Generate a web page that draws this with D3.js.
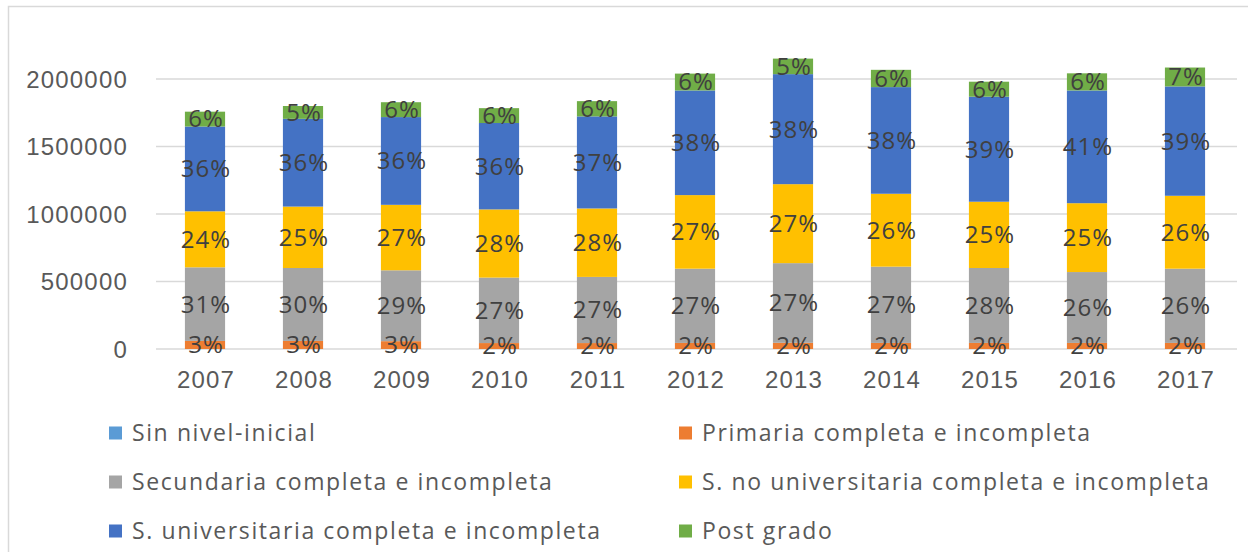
<!DOCTYPE html>
<html>

<head>
    <meta charset="utf-8">
    <style>
        body {
            margin: 0;
            background-color: white;
        }

        svg {
            display: block;
            font-family: 'Open Sans', 'Liberation Sans', sans-serif;
        }

        .tick-label {
            fill: #595959;
            font-size: 24px;
            letter-spacing: 1.2px;
        }

        .data-label {
            fill: #404040;
            font-size: 24px;
            letter-spacing: 1px;
        }

        .legend-label {
            fill: #595959;
            font-size: 23px;
            letter-spacing: 1.6px;
        }
    </style>
</head>

<body>
    <svg width="1248" height="552"></svg>
</body>

<script src="https://d3js.org/d3.v7.min.js"></script>

<script>
    // years on the x axis
    let years = ["2007", "2008", "2009", "2010", "2011", "2012", "2013", "2014", "2015", "2016", "2017"]

    // one array per education level (people)
    let sinNivel = [0, 0, 0, 0, 0, 0, 0, 0, 0, 0, 0]
    let primaria = [60000, 60000, 58000, 44000, 44000, 45000, 46000, 45000, 45000, 45000, 45000]
    let secundaria = [545000, 540000, 525000, 485000, 490000, 550000, 590000, 565000, 555000, 525000, 550000]
    let noUniversitaria = [415000, 455000, 485000, 505000, 507000, 545000, 585000, 540000, 491000, 510000, 540000]
    let universitaria = [628000, 650000, 650000, 640000, 682000, 775000, 815000, 790000, 778000, 835000, 810000]
    let postGrado = [110000, 95000, 110000, 110000, 113000, 125000, 115000, 128000, 111000, 127000, 140000]

    let seriesNames = [
        "Sin nivel-inicial",
        "Primaria completa e incompleta",
        "Secundaria completa e incompleta",
        "S. no universitaria completa e incompleta",
        "S. universitaria completa e incompleta",
        "Post grado"
    ]
    let seriesValues = [sinNivel, primaria, secundaria, noUniversitaria, universitaria, postGrado]
    let colors = ["#5b9bd5", "#ed7d31", "#a5a5a5", "#ffc000", "#4472c4", "#70ad47"]

    let yTicks = [0, 500000, 1000000, 1500000, 2000000]

    // build rows for d3.stack
    let rows = years.map((y, i) => {
        let row = { year: y }
        seriesNames.forEach((name, s) => { row[name] = seriesValues[s][i] })
        return row
    })
    let totals = years.map((y, i) => d3.sum(seriesValues, s => s[i]))

    let svg = d3.select("svg")

    // chart frame (only top and left edges are visible in the picture)
    svg.append("rect")
        .attr("x", 8.5)
        .attr("y", 6.5)
        .attr("width", 1260)
        .attr("height", 560)
        .style("fill", "none")
        .style("stroke", "#d9d9d9")
        .style("stroke-width", 1.5)

    let x = d3.scaleBand()
        .domain(years)
        .range([156, 1234])
        .paddingInner(0.59)
        .paddingOuter(0.295)

    let y = d3.scaleLinear()
        .domain([0, 2000000])
        .range([349, 79])

    // gridlines
    svg.append("g")
        .selectAll("line")
        .data(yTicks)
        .join("line")
        .attr("x1", 156)
        .attr("x2", 1237)
        .attr("y1", d => y(d))
        .attr("y2", d => y(d))
        .style("stroke", "#d9d9d9")
        .style("stroke-width", 1.5)

    // y axis labels
    let yAxis = d3.axisLeft(y).tickValues(yTicks).tickSize(0).tickPadding(0).tickFormat(d3.format("d"))
    svg.append("g")
        .attr("transform", "translate(128,0)")
        .call(yAxis)
        .call(g => g.select(".domain").remove())
        .call(g => g.selectAll("text")
            .attr("class", "tick-label")
            .attr("font-size", null)
            .attr("font-family", null)
            .attr("dy", "0.35em"))

    // x axis labels
    let xAxis = d3.axisBottom(x).tickSize(0).tickPadding(0)
    svg.append("g")
        .attr("transform", "translate(1,371)")
        .call(xAxis)
        .call(g => g.select(".domain").remove())
        .call(g => g.selectAll("text")
            .attr("class", "tick-label")
            .attr("font-size", null)
            .attr("font-family", null)
            .attr("dy", "0.71em"))

    let stack = d3.stack().keys(seriesNames)
    let stacked = stack(rows)

    let layers = svg.append("g")
        .selectAll("g")
        .data(stacked)
        .join("g")
        .style("fill", (d, i) => colors[i])

    layers.selectAll("rect")
        .data(d => d)
        .join("rect")
        .attr("x", d => x(d.data.year))
        .attr("width", x.bandwidth())
        .attr("y", d => y(d[1]))
        .attr("height", d => y(d[0]) - y(d[1]))

    // percentage labels, centered in each segment
    let labels = svg.append("g")
    stacked.forEach((layer, s) => {
        labels.selectAll(".lab-" + s)
            .data(layer.filter(d => d[1] - d[0] > 0))
            .join("text")
            .attr("class", "data-label lab-" + s)
            .attr("x", d => x(d.data.year) + x.bandwidth() / 2 + 1)
            .attr("y", d => y((d[0] + d[1]) / 2))
            .attr("dy", "0.35em")
            .attr("text-anchor", "middle")
            .text(d => {
                let i = years.indexOf(d.data.year)
                return Math.round((d[1] - d[0]) / totals[i] * 100) + "%"
            })
    })

    // legend, two columns
    let legend = svg.append("g")
        .selectAll("g")
        .data(seriesNames)
        .join("g")
        .attr("transform", (d, i) => {
            let col = i % 2
            let row = Math.floor(i / 2)
            return "translate(" + (col == 0 ? 109 : 679) + "," + (433 + row * 49) + ")"
        })

    legend.append("rect")
        .attr("x", 0)
        .attr("y", -6.5)
        .attr("width", 13)
        .attr("height", 13)
        .style("fill", (d, i) => colors[i])

    legend.append("text")
        .attr("class", "legend-label")
        .attr("x", 23)
        .attr("dy", "0.35em")
        .text(d => d)
</script>

</html>
